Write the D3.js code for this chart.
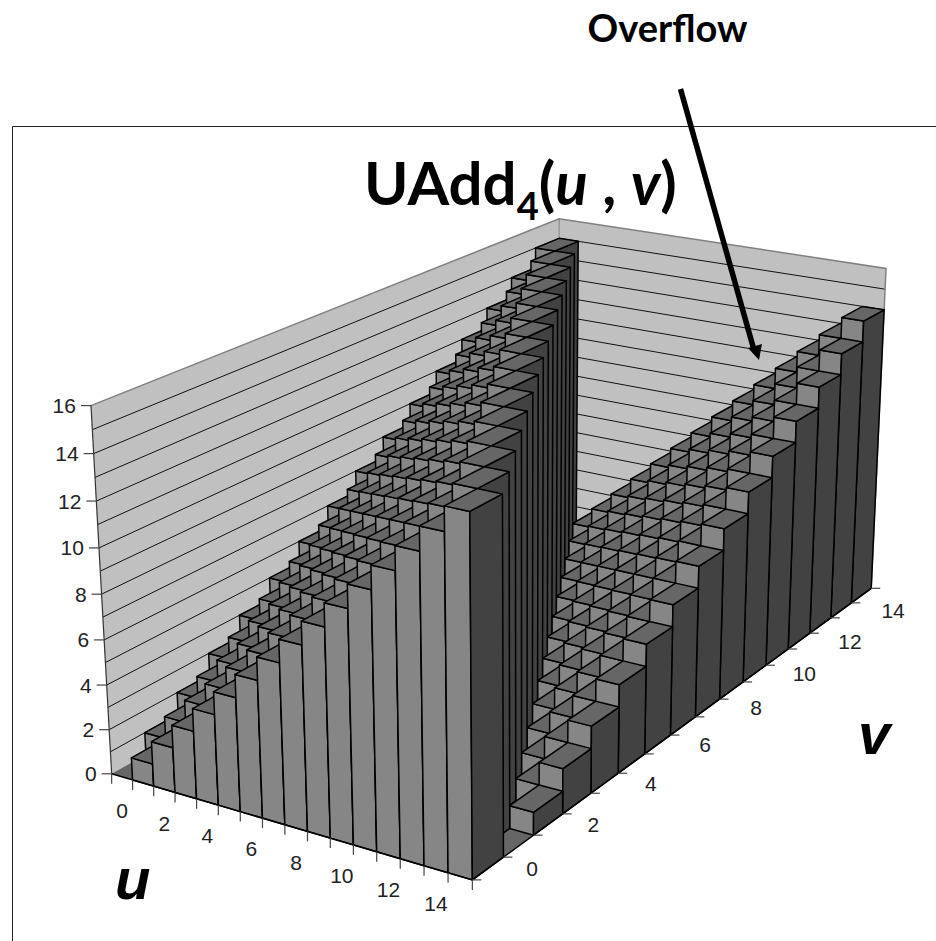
<!DOCTYPE html>
<html>
<head>
<meta charset="utf-8">
<script src="https://d3js.org/d3.v7.min.js"></script>
<style>
  html, body { margin: 0; padding: 0; background: #fff; }
  svg { display: block; }
  .tick-label { font-family: "Liberation Sans", Arial, sans-serif; font-size: 21px; fill: #222; }
  .big-axis { font-family: "Liberation Sans", Arial, sans-serif; font-size: 58px; font-weight: bold; font-style: italic; fill: #000; }
  .title { font-family: Lato, sans-serif; font-weight: bold; fill: #000; }
</style>
</head>
<body>
<div class="canvas"></div>
<script>
const uLabels = d3.range(0, 16);
const vLabels = d3.range(0, 16);
const zTicks = [0, 2, 4, 6, 8, 10, 12, 14, 16];
const axisLabelsShown = [0, 2, 4, 6, 8, 10, 12, 14];

// one row per v, one column per u
const row0  = [0, 1, 2, 3, 4, 5, 6, 7, 8, 9, 10, 11, 12, 13, 14, 15];
const row1  = [1, 2, 3, 4, 5, 6, 7, 8, 9, 10, 11, 12, 13, 14, 15, 0];
const row2  = [2, 3, 4, 5, 6, 7, 8, 9, 10, 11, 12, 13, 14, 15, 0, 1];
const row3  = [3, 4, 5, 6, 7, 8, 9, 10, 11, 12, 13, 14, 15, 0, 1, 2];
const row4  = [4, 5, 6, 7, 8, 9, 10, 11, 12, 13, 14, 15, 0, 1, 2, 3];
const row5  = [5, 6, 7, 8, 9, 10, 11, 12, 13, 14, 15, 0, 1, 2, 3, 4];
const row6  = [6, 7, 8, 9, 10, 11, 12, 13, 14, 15, 0, 1, 2, 3, 4, 5];
const row7  = [7, 8, 9, 10, 11, 12, 13, 14, 15, 0, 1, 2, 3, 4, 5, 6];
const row8  = [8, 9, 10, 11, 12, 13, 14, 15, 0, 1, 2, 3, 4, 5, 6, 7];
const row9  = [9, 10, 11, 12, 13, 14, 15, 0, 1, 2, 3, 4, 5, 6, 7, 8];
const row10 = [10, 11, 12, 13, 14, 15, 0, 1, 2, 3, 4, 5, 6, 7, 8, 9];
const row11 = [11, 12, 13, 14, 15, 0, 1, 2, 3, 4, 5, 6, 7, 8, 9, 10];
const row12 = [12, 13, 14, 15, 0, 1, 2, 3, 4, 5, 6, 7, 8, 9, 10, 11];
const row13 = [13, 14, 15, 0, 1, 2, 3, 4, 5, 6, 7, 8, 9, 10, 11, 12];
const row14 = [14, 15, 0, 1, 2, 3, 4, 5, 6, 7, 8, 9, 10, 11, 12, 13];
const row15 = [15, 0, 1, 2, 3, 4, 5, 6, 7, 8, 9, 10, 11, 12, 13, 14];
const rows = [row0, row1, row2, row3, row4, row5, row6, row7, row8, row9, row10, row11, row12, row13, row14, row15];

const colours = { wall: '#c0c0c0', wallEdge: '#808080', floor: '#666666', top: '#666666', front: '#868686', side: '#424242' };

const dims = { width: 936, height: 941 };

const svg = d3.select('.canvas')
    .append('svg')
    .attr('width', dims.width)
    .attr('height', dims.height);

// camera fit: [u, v, z] in chart units -> [x, y]
const calib = [
    [[0, 0, 0], [111.7, 773]],
    [[16, 0, 0], [472, 879.3]],
    [[16, 16, 0], [871, 588.7]],
    [[0, 0, 16], [91, 405]],
    [[0, 16, 16], [559, 219]],
    [[16, 16, 16], [886, 268]],
    [[8, 0, 0], [285, 826.7]],
    [[16, 10, 0], [744, 681.7]],
    [[16, 3, 0], [562, 813]],
    [[16, 0, 15], [470, 511.7]],
    [[16, 1, 15], [501.7, 493.3]],
    [[15, 0, 15], [445, 507]]
];

// least squares for the 3x4 projection matrix (last entry fixed to 1)
const fitCamera = (pts) => {
    const A = [], b = [];
    pts.forEach(([[X, Y, Z], [x, y]]) => {
        A.push([X, Y, Z, 1, 0, 0, 0, 0, -x * X, -x * Y, -x * Z]); b.push(x);
        A.push([0, 0, 0, 0, X, Y, Z, 1, -y * X, -y * Y, -y * Z]); b.push(y);
    });
    const n = 11;
    const M = d3.range(n).map(i => d3.range(n + 1).map(j =>
        j < n ? d3.sum(A, (r) => r[i] * r[j]) : d3.sum(A, (r, k) => r[i] * b[k])));
    for (let i = 0; i < n; i++) {
        let p = i;
        for (let k = i + 1; k < n; k++) if (Math.abs(M[k][i]) > Math.abs(M[p][i])) p = k;
        [M[i], M[p]] = [M[p], M[i]];
        for (let k = 0; k < n; k++) {
            if (k === i) continue;
            const f = M[k][i] / M[i][i];
            for (let j = i; j <= n; j++) M[k][j] -= f * M[i][j];
        }
    }
    return M.map((r, i) => r[n] / r[i]);
};

const cam = fitCamera(calib);
const project = (u, v, z) => {
    const w = cam[8] * u + cam[9] * v + cam[10] * z + 1;
    return [(cam[0] * u + cam[1] * v + cam[2] * z + cam[3]) / w,
            (cam[4] * u + cam[5] * v + cam[6] * z + cam[7]) / w];
};

const uScale = d3.scaleBand().domain(uLabels).range([0, 16]);
const vScale = d3.scaleBand().domain(vLabels).range([0, 16]);
const zScale = d3.scaleLinear().domain([0, 16]).range([0, 16]);

const poly = d3.line().curve(d3.curveLinearClosed);
const seg = d3.line();

// frame
svg.append('path')
    .attr('d', seg([[12.5, dims.height], [12.5, 126.5], [dims.width, 126.5]]))
    .attr('fill', 'none')
    .attr('stroke', '#222')
    .attr('stroke-width', 1);

const Z0 = zScale(0), Zmax = zScale(16);

// walls
const walls = svg.append('g');
walls.append('path')
    .attr('d', poly([project(0, 0, Z0), project(0, 16, Z0), project(0, 16, Zmax), project(0, 0, Zmax)]))
    .attr('fill', colours.wall);
walls.append('path')
    .attr('d', poly([project(0, 16, Z0), project(16, 16, Z0), project(16, 16, Zmax), project(0, 16, Zmax)]))
    .attr('fill', colours.wall);

// grid lines every unit
d3.range(1, 16).forEach(z => {
    walls.append('path')
        .attr('d', seg([project(0, 0, zScale(z)), project(0, 16, zScale(z)), project(16, 16, zScale(z))]))
        .attr('fill', 'none')
        .attr('stroke', '#111')
        .attr('stroke-width', 1);
});

// wall edges
walls.append('path')
    .attr('d', seg([project(0, 0, Zmax), project(0, 16, Zmax), project(16, 16, Zmax), project(16, 16, Z0)]))
    .attr('fill', 'none').attr('stroke', colours.wallEdge).attr('stroke-width', 1.5);
walls.append('path')
    .attr('d', seg([project(0, 16, Z0), project(0, 16, Zmax)]))
    .attr('fill', 'none').attr('stroke', colours.wallEdge).attr('stroke-width', 1);
walls.append('path')
    .attr('d', seg([project(0, 0, Z0), project(0, 0, Zmax)]))
    .attr('fill', 'none').attr('stroke', '#333').attr('stroke-width', 1.2);

// floor
svg.append('path')
    .attr('d', poly([project(0, 0, Z0), project(16, 0, Z0), project(16, 16, Z0), project(0, 16, Z0)]))
    .attr('fill', colours.floor);

// bars, painted from the far corner (high v, low u) forward
const cells = [];
d3.range(15, -1, -1).forEach(vi => {
    uLabels.forEach(ui => {
        cells.push({ u: ui, v: vi, value: rows[vi][ui] });
    });
});

const bars = svg.append('g')
    .selectAll('g')
    .data(cells.filter(d => d.value > 0))
    .enter()
    .append('g')
    .attr('stroke', '#000')
    .attr('stroke-width', 1.5)
    .attr('stroke-linejoin', 'round');

const corners = d => {
    const u0 = uScale(d.u), u1 = u0 + uScale.bandwidth();
    const v0 = vScale(d.v), v1 = v0 + vScale.bandwidth();
    return { u0, u1, v0, v1, h: zScale(d.value) };
};

bars.append('path')
    .attr('fill', colours.front)
    .attr('d', d => {
        const c = corners(d);
        return poly([project(c.u0, c.v0, 0), project(c.u1, c.v0, 0), project(c.u1, c.v0, c.h), project(c.u0, c.v0, c.h)]);
    });
bars.append('path')
    .attr('fill', colours.side)
    .attr('d', d => {
        const c = corners(d);
        return poly([project(c.u1, c.v0, 0), project(c.u1, c.v1, 0), project(c.u1, c.v1, c.h), project(c.u1, c.v0, c.h)]);
    });
bars.append('path')
    .attr('fill', colours.top)
    .attr('d', d => {
        const c = corners(d);
        return poly([project(c.u0, c.v0, c.h), project(c.u1, c.v0, c.h), project(c.u1, c.v1, c.h), project(c.u0, c.v1, c.h)]);
    });

// axes
const axes = svg.append('g').attr('stroke', '#444').attr('stroke-width', 1.2).attr('fill', 'none');
axes.append('path').attr('d', seg([project(0, 0, 0), project(16, 0, 0), project(16, 16, 0)])).attr('stroke', '#000').attr('stroke-width', 1.5);

d3.range(0, 17).forEach(t => {
    const pu = project(t, 0, 0);
    axes.append('path').attr('d', seg([pu, [pu[0], pu[1] + 10]]));
    const pv = project(16, t, 0);
    axes.append('path').attr('d', seg([pv, [pv[0] + 9, pv[1]]]));
});
zTicks.forEach(t => {
    const p = project(0, 0, zScale(t));
    axes.append('path').attr('d', seg([[p[0] - 10, p[1]], p]));
});

const labels = svg.append('g');
zTicks.forEach(t => {
    const p = project(0, 0, zScale(t));
    labels.append('text').attr('class', 'tick-label')
        .attr('x', p[0] - 15).attr('y', p[1] + 7.5)
        .attr('text-anchor', 'end').text(t);
});
const vOffset = d3.scaleLinear().domain([0, 14]).range([44, 52]);
axisLabelsShown.forEach(t => {
    const pu = project(uScale(t) + uScale.bandwidth() / 2, 0, 0);
    labels.append('text').attr('class', 'tick-label')
        .attr('x', pu[0]).attr('y', pu[1] + 41.5)
        .attr('text-anchor', 'middle').text(t);
    const pv = project(16, vScale(t) + vScale.bandwidth() / 2, 0);
    labels.append('text').attr('class', 'tick-label')
        .attr('x', pv[0] + vOffset(t)).attr('y', pv[1] + 7.5)
        .attr('text-anchor', 'middle').text(t);
});

svg.append('text').attr('class', 'big-axis').attr('x', 115).attr('y', 899).text('u');
svg.append('text').attr('class', 'big-axis').attr('x', 858).attr('y', 754).text('v');

// title
const title = svg.append('text').attr('class', 'title').attr('x', 364).attr('y', 205).attr('font-size', 60);
title.append('tspan').text('UAdd');
title.append('tspan').attr('font-size', 38).attr('dy', 15).text('4');
title.append('tspan').attr('dy', -15).text('(');
title.append('tspan').attr('font-style', 'italic').text('u');
title.append('tspan').text(' , ');
title.append('tspan').attr('font-style', 'italic').text('v');
title.append('tspan').text(')');

svg.append('text').attr('class', 'title')
    .attr('x', 667.5).attr('y', 42)
    .attr('font-size', 38)
    .attr('text-anchor', 'middle')
    .text('Overflow');

// arrow
svg.append('path')
    .attr('d', seg([[680.5, 89], [754, 350]]))
    .attr('stroke', '#000').attr('stroke-width', 5.5).attr('fill', 'none');
svg.append('path')
    .attr('d', poly([[759, 360], [748, 348], [762, 344]]))
    .attr('fill', '#000');
</script>
</body>
</html>
